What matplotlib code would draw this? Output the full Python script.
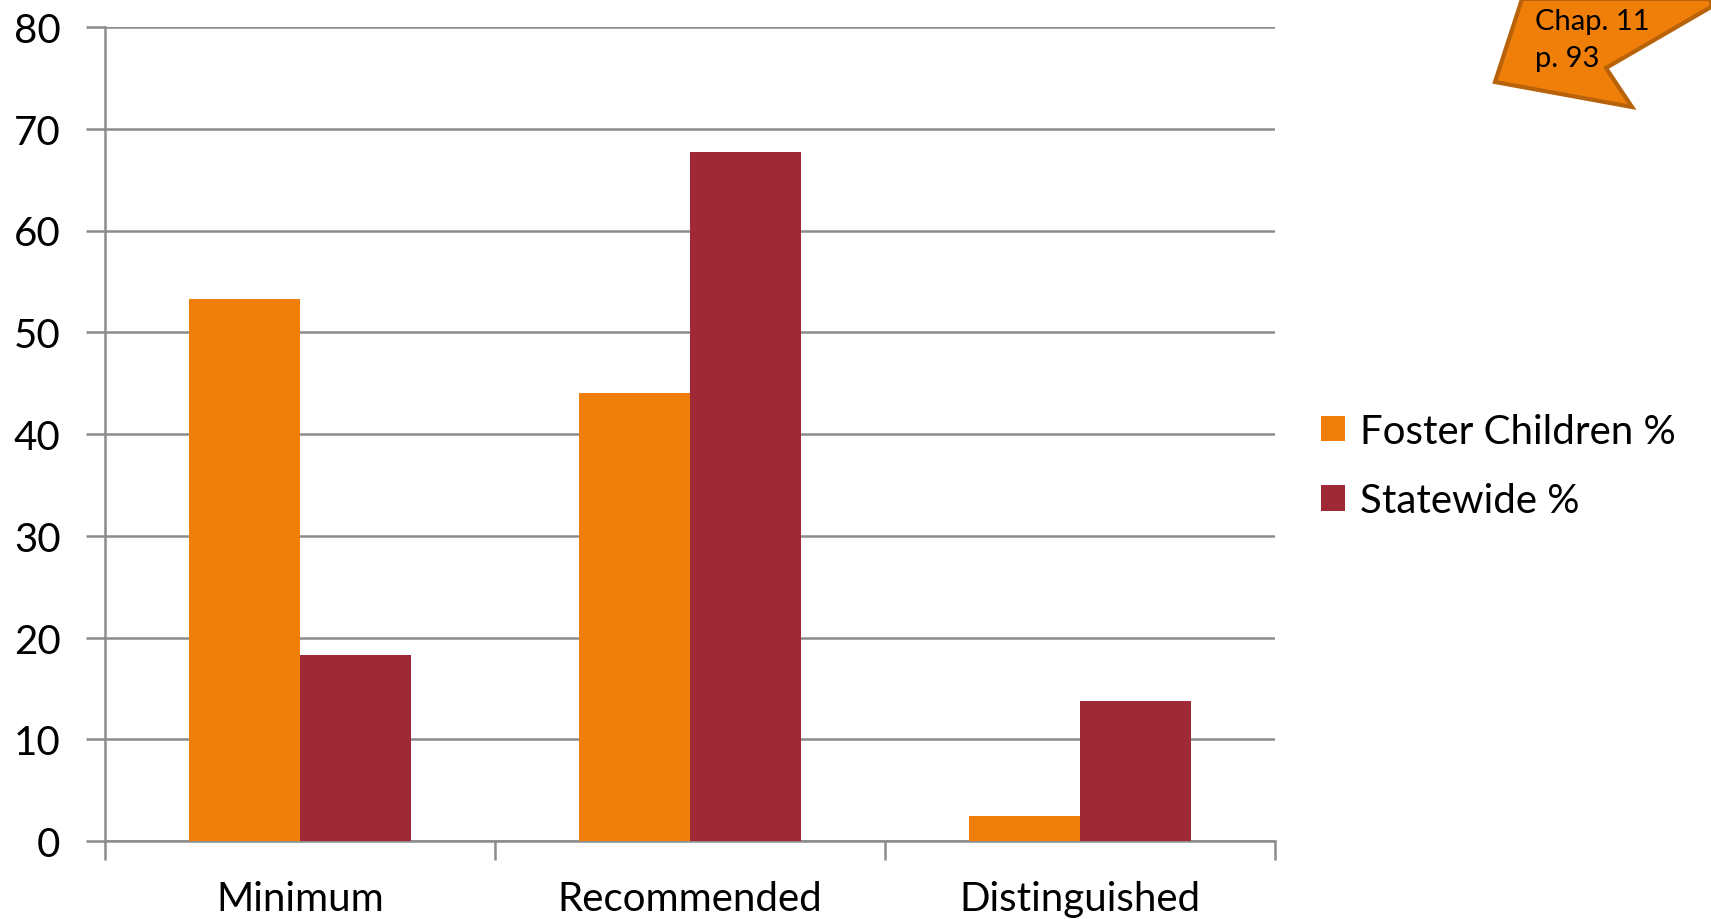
import numpy as np
import matplotlib
matplotlib.use('Agg')
import matplotlib.pyplot as plt
from matplotlib.patches import Polygon

plt.rcParams['font.family'] = ['Lato', 'DejaVu Sans']

# Chart data
categories = ['Minimum', 'Recommended', 'Distinguished']
foster = [53.3, 44.0, 2.5]
statewide = [18.3, 67.7, 13.8]
series_names = ['Foster Children %', 'Statewide %']

orange = '#F07F09'
red = '#9F2936'
grid_grey = '#8C8C8C'

fig = plt.figure(figsize=(17.11, 9.20), dpi=100)
ax = fig.add_axes([105 / 1711, 1 - 842 / 920, (1275 - 105) / 1711, (842 - 28) / 920])

x = np.arange(len(categories))
w = 0.285
ax.bar(x - w / 2, foster, width=w, color=orange, label=series_names[0], zorder=3)
ax.bar(x + w / 2, statewide, width=w, color=red, label=series_names[1], zorder=3)

ax.set_xlim(-0.5, len(categories) - 0.5)
ax.set_ylim(0, 80)
ax.set_yticks(range(0, 81, 10))
ax.yaxis.grid(True, color=grid_grey, linewidth=1.8, zorder=0)

ax.set_xticks(x)
ax.set_xticklabels(categories, fontsize=29)
ax.set_xticks(np.arange(-0.5, len(categories)), minor=True)
ax.tick_params(axis='x', which='major', length=0, pad=28)
ax.tick_params(axis='x', which='minor', length=14, width=1.8, color=grid_grey, direction='out')
ax.tick_params(axis='y', length=14, width=1.8, color=grid_grey, labelsize=29, pad=18)

for side in ['top', 'right']:
    ax.spines[side].set_visible(False)
for side in ['left', 'bottom']:
    ax.spines[side].set_color(grid_grey)
    ax.spines[side].set_linewidth(1.8)

leg = fig.legend(loc='center left', bbox_to_anchor=(1285 / 1711, 1 - 467 / 920),
                 fontsize=29, frameon=False, handlelength=0.6, handleheight=0.6,
                 handletextpad=0.35, labelspacing=0.8)

# callout arrow in the top right corner
pts = [(1522, 0), (1495, 83), (1632, 108), (1606, 69), (1711, 8), (1711, 0)]
callout = Polygon([(px / 1711, 1 - py / 920) for px, py in pts], closed=True,
                  transform=fig.transFigure, facecolor=orange, edgecolor='#B8620A',
                  linewidth=3, zorder=5)
fig.patches.append(callout)
fig.text(1535 / 1711, 1 - 9 / 920, 'Chap. 11\np. 93', fontsize=21, va='top', ha='left',
         linespacing=1.5, zorder=6)

fig.savefig('out.png', dpi=100)
